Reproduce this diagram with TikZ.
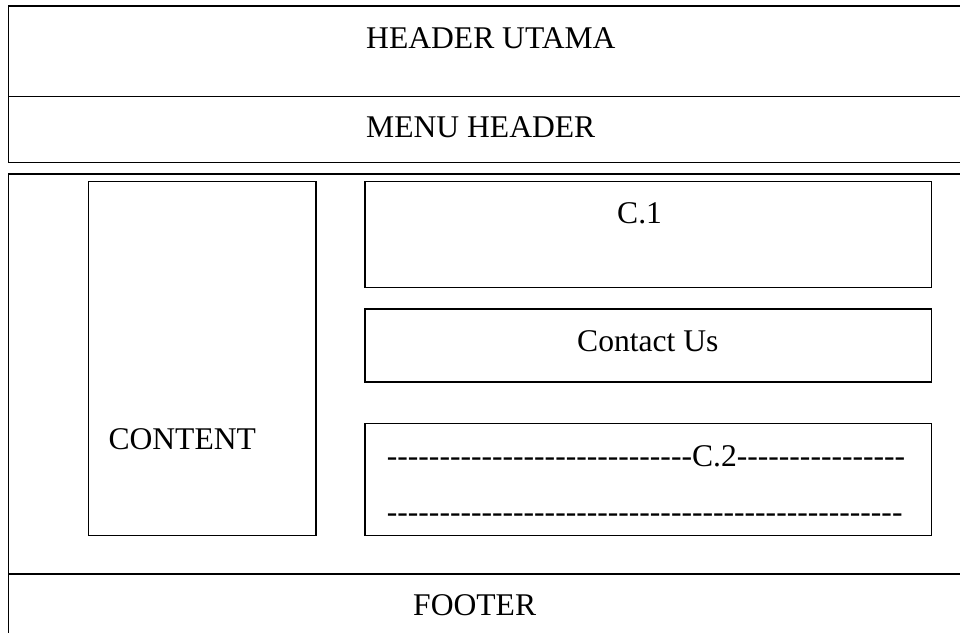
\documentclass[tikz,border=0pt]{standalone}
\usepackage{fontspec}
\setmainfont{Liberation Serif}
\newcommand\dashrun[1]{\foreach \k in {1,...,#1}{\hbox{-}}}
\begin{document}
\begin{tikzpicture}[x=1pt,y=-1pt,
  frame/.style={draw=black,line width=1.5pt},
  lbl/.style={inner sep=0pt,anchor=base west,font=\fontsize{31.6}{38}\selectfont}]
\useasboundingbox (0,0) rectangle (960,632);
% outer frames
\draw[frame] (8.3,6) rectangle (966,162.5);
\draw[frame] (8.3,96.7) -- (966,96.7);
\draw[frame] (8.3,174.2) rectangle (966,640);
\draw[frame] (8.3,574.2) -- (966,574.2);
% inner boxes
\draw[frame] (88.3,181.7) rectangle (316,535.7);
\draw[frame] (365,181.7) rectangle (931.7,287.5);
\draw[frame] (365,309) rectangle (931.7,382);
\draw[frame] (365,423.3) rectangle (931.7,535.7);
% texts
\node[lbl] (header) at (366,48.5) {HEADER UTAMA};
\node[lbl] (menu) at (366,137.5) {MENU HEADER};
\node[lbl] (content) at (108.3,449) {CONTENT};
\node[lbl] (c1) at (617,223.5) {C.1};
\node[lbl] (contact) at (577,351) {Contact Us};
\node[lbl] (c2a) at (386.7,466) {\dashrun{29}C.2\dashrun{16}};
\node[lbl] (c2b) at (386.7,522) {\dashrun{49}};
\node[lbl] (footer) at (413,615.5) {FOOTER};
\end{tikzpicture}
\end{document}
